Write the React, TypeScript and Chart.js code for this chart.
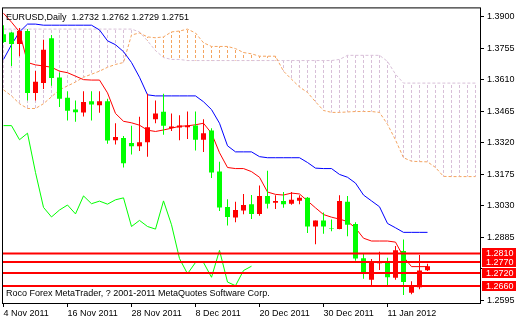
import React, { useEffect, useRef } from 'react';
import { Chart, registerables } from 'chart.js';

Chart.register(...registerables);

const symbolTitle = 'EURUSD,Daily';
const copyright = 'Roco Forex MetaTrader, ? 2001-2011 MetaQuotes Software Corp.';

const opens = [1.3820,1.3828,1.3775,1.3835,1.3549,1.3595,1.3802,1.3621,1.3527,1.3473,
1.3460,1.3511,1.3493,1.3511,1.3331,1.3342,1.3319,1.3304,1.3322,1.3428,
1.3463,1.3388,1.3390,1.3392,1.3399,1.3334,1.3377,1.3187,1.3024,1.2975,
1.3008,1.3037,1.2992,1.3075,1.3043,1.3051,1.3039,1.3053,1.3066,1.2934,
1.2962,1.2925,1.2922,1.3048,1.2945,1.2788,1.2689,1.2764,1.2768,1.2698,
1.2821,1.2629,1.2654,1.2732];
const highs = [1.3862,1.3831,1.3849,1.3844,1.3651,1.3795,1.3817,1.3644,1.3558,1.3515,
1.3558,1.3558,1.3558,1.3523,1.3410,1.3351,1.3398,1.3440,1.3546,1.3515,
1.3546,1.3455,1.3447,1.3464,1.3464,1.3428,1.3387,1.3232,1.3060,1.3048,
1.3084,1.3079,1.3123,1.3191,1.3078,1.3093,1.3093,1.3078,1.3070,1.2962,
1.2999,1.2966,1.3078,1.3075,1.2953,1.2808,1.2784,1.2818,1.2790,1.2844,
1.2874,1.2681,1.2803,1.2762];
const lows = [1.3781,1.3674,1.3719,1.3515,1.3515,1.3568,1.3583,1.3485,1.3423,1.3417,
1.3441,1.3423,1.3458,1.3316,1.3312,1.3206,1.3266,1.3282,1.3256,1.3410,
1.3357,1.3374,1.3331,1.3337,1.3284,1.3277,1.3158,1.3005,1.2939,1.2954,
1.2990,1.2969,1.2984,1.3017,1.3015,1.3020,1.3034,1.3037,1.2904,1.2852,
1.2900,1.2912,1.2921,1.2889,1.2776,1.2693,1.2658,1.2734,1.2655,1.2689,
1.2618,1.2622,1.2645,1.2729];
const closes = [1.3784,1.3775,1.3835,1.3549,1.3601,1.3749,1.3618,1.3523,1.3467,1.3461,
1.3508,1.3496,1.3511,1.3330,1.3346,1.3225,1.3304,1.3322,1.3392,1.3455,
1.3398,1.3395,1.3399,1.3399,1.3334,1.3364,1.3183,1.3022,1.2978,1.3010,
1.3033,1.2992,1.3075,1.3039,1.3051,1.3037,1.3057,1.3066,1.2934,1.2962,
1.2934,1.2922,1.3052,1.2942,1.2786,1.2716,1.2768,1.2768,1.2700,1.2824,
1.2678,1.2661,1.2731,1.2751];

const tenkan = [1.3917,1.3876,1.3831,1.3690,1.3679,1.3674,1.3668,1.3650,1.3643,1.3627,
1.3611,1.3609,1.3609,1.3550,1.3455,1.3419,1.3412,1.3401,1.3378,1.3372,
1.3379,1.3387,1.3396,1.3398,1.3403,1.3410,1.3364,1.3274,1.3206,1.3201,
1.3201,1.3187,1.3161,1.3093,1.3082,1.3079,1.3088,1.3084,1.3052,1.3020,
1.2989,1.2977,1.2968,1.2957,1.2927,1.2880,1.2867,1.2867,1.2867,1.2862,
1.2794,1.2749,1.2749,1.2749];
const kijun = [1.3704,1.3772,1.3831,1.3867,1.3867,1.3862,1.3862,1.3862,1.3862,1.3862,
1.3862,1.3862,1.3840,1.3790,1.3772,1.3740,1.3690,1.3622,1.3541,1.3536,
1.3536,1.3536,1.3536,1.3536,1.3536,1.3509,1.3473,1.3410,1.3306,1.3278,
1.3278,1.3278,1.3256,1.3251,1.3251,1.3251,1.3251,1.3251,1.3229,1.3203,
1.3201,1.3201,1.3174,1.3161,1.3134,1.3079,1.3052,1.3025,1.2948,1.2928,
1.2907,1.2907,1.2907,1.2907];
const chikou = [1.3399,1.3399,1.3334,1.3364,1.3183,1.3022,1.2978,1.3010,1.3033,1.2992,
1.3075,1.3039,1.3051,1.3037,1.3057,1.3066,1.2934,1.2962,1.2934,1.2922,
1.3052,1.2942,1.2786,1.2716,1.2768,1.2768,1.2700,1.2824,1.2678,1.2661,
1.2731,1.2751];
const senkouA = [1.3564,1.3536,1.3500,1.3478,1.3478,1.3500,1.3532,1.3564,1.3582,1.3600,
1.3622,1.3636,1.3650,1.3668,1.3681,1.3690,1.3817,1.3826,1.3808,1.3804,
1.3808,1.3831,1.3835,1.3844,1.3826,1.3781,1.3764,1.3764,1.3764,1.3754,
1.3736,1.3730,1.3719,1.3719,1.3719,1.3650,1.3613,1.3577,1.3552,1.3509,
1.3469,1.3460,1.3460,1.3462,1.3464,1.3464,1.3464,1.3460,1.3405,1.3333,
1.3251,1.3235,1.3233,1.3232,1.3206,1.3165,1.3164,1.3164,1.3164,1.3164];
const senkouB = [1.3844,1.3844,1.3844,1.3844,1.3844,1.3844,1.3844,1.3844,1.3844,1.3844,
1.3844,1.3844,1.3844,1.3844,1.3844,1.3844,1.3844,1.3831,1.3790,1.3745,
1.3713,1.3704,1.3704,1.3699,1.3699,1.3699,1.3699,1.3699,1.3699,1.3699,
1.3699,1.3699,1.3699,1.3699,1.3699,1.3699,1.3699,1.3699,1.3699,1.3699,
1.3699,1.3699,1.3704,1.3723,1.3723,1.3723,1.3723,1.3723,1.3695,1.3636,
1.3595,1.3595,1.3595,1.3595,1.3595,1.3595,1.3595,1.3595,1.3595,1.3595];

const levels = [1.2810, 1.2770, 1.2720, 1.2660];

const xTickIdx = [0, 8, 16, 24, 32, 40, 48];
const xTickLabels = ['4 Nov 2011', '16 Nov 2011', '28 Nov 2011', '8 Dec 2011', '20 Dec 2011', '30 Dec 2011', '11 Jan 2012'];
const yTicks = [1.3900, 1.3755, 1.3610, 1.3465, 1.3320, 1.3175, 1.3030, 1.2885, 1.2740, 1.2595];
const yTicksUnlabelled = [1.2740];

const X_MIN = -0.0625;
const X_MAX = 59.5625;
const Y_MIN = 1.25813;
const Y_MAX = 1.39394;

const RED = '#FF0000';
const LIME = '#00FF00';
const BLUE = '#0000FF';
const SANDY = '#F4A460';
const THISTLE = '#D8BFD8';
const FONT = 'Liberation Sans';

export default function App() {
  const ref = useRef<HTMLCanvasElement>(null);

  useEffect(() => {
    const canvas = ref.current as HTMLCanvasElement;
    const ctx = canvas.getContext('2d') as CanvasRenderingContext2D;
    const makePattern = (color: string) => {
      const c = document.createElement('canvas');
      c.width = 1;
      c.height = 5;
      const g = c.getContext('2d') as CanvasRenderingContext2D;
      g.fillStyle = color;
      g.fillRect(0, 0, 1, 3);
      return ctx.createPattern(c, 'repeat') as CanvasPattern;
    };
    const sandyPat = makePattern(SANDY);
    const thistlePat = makePattern(THISTLE);

    const pts = (arr: number[]) => arr.map((v, i) => ({ x: i, y: v }));
    const candleColor = (i: number) => (closes[i] >= opens[i] ? RED : LIME);

    const overlay = {
      id: 'overlay',
      beforeDraw(chart: any) {
        const c = chart.ctx;
        c.save();
        c.fillStyle = '#FFFFFF';
        c.fillRect(0, 0, chart.width, chart.height);
        c.restore();
      },
      afterDraw(chart: any) {
        const c = chart.ctx;
        const a = chart.chartArea;
        const ys = chart.scales.y;
        c.save();
        c.strokeStyle = '#000000';
        c.lineWidth = 1;
        c.strokeRect(a.left - 0.5, a.top - 0.5, a.right - a.left + 1, a.bottom - a.top + 1);
        c.font = `9px "${FONT}"`;
        c.textBaseline = 'middle';
        c.textAlign = 'left';
        c.fillStyle = '#000000';
        const last = opens.length - 1;
        const title = `${symbolTitle}  ${opens[last].toFixed(4)} ${highs[last].toFixed(4)} ${lows[last].toFixed(4)} ${closes[last].toFixed(4)}`;
        c.fillText(title, a.left + 3, a.top + 9);
        c.fillText(copyright, a.left + 3, a.bottom - 9);
        levels.forEach((lv) => {
          const y = Math.round(ys.getPixelForValue(lv));
          c.fillStyle = RED;
          c.fillRect(a.right + 2, y - 5, 34, 10);
          c.fillStyle = '#FFFFFF';
          c.fillText(lv.toFixed(4), a.right + 6, y + 0.5);
        });
        c.restore();
      },
    };

    const lineDs = (label: string, data: number[], color: string, order: number, dash: number[] = []) => ({
      type: 'line' as const,
      label,
      data: pts(data),
      borderColor: color,
      borderWidth: 1,
      borderDash: dash,
      pointRadius: 0,
      tension: 0,
      fill: false,
      order,
      clip: 0,
    });

    const datasets: any[] = [];
    levels.forEach((lv, k) => {
      datasets.push({
        type: 'line',
        label: 'level' + k,
        data: [{ x: X_MIN, y: lv }, { x: X_MAX, y: lv }],
        borderColor: RED,
        borderWidth: 2,
        pointRadius: 0,
        fill: false,
        order: 0,
        clip: 0,
      });
    });
    datasets.push({
      type: 'bar',
      label: 'body',
      data: opens.map((o, i) => ({ x: i, y: [o, closes[i]] })),
      backgroundColor: opens.map((_, i) => candleColor(i)),
      borderWidth: 0,
      barThickness: 5,
      grouped: false,
      inflateAmount: 0,
      order: 1,
      clip: 0,
    });
    datasets.push({
      type: 'bar',
      label: 'wick',
      data: lows.map((l, i) => ({ x: i, y: [l, highs[i]] })),
      backgroundColor: lows.map((_, i) => candleColor(i)),
      borderWidth: 0,
      barThickness: 1,
      grouped: false,
      inflateAmount: 0,
      order: 2,
      clip: 0,
    });
    datasets.push(lineDs('Tenkan-sen', tenkan, RED, 3));
    datasets.push(lineDs('Kijun-sen', kijun, BLUE, 3));
    datasets.push(lineDs('Chikou Span', chikou, LIME, 3));
    datasets.push(lineDs('Senkou Span A', senkouA, SANDY, 4, [3, 2]));
    datasets.push(lineDs('Senkou Span B', senkouB, THISTLE, 4, [3, 2]));
    datasets.push({
      type: 'bar',
      label: 'kumo',
      data: senkouA.map((a, i) => ({ x: i, y: [a, senkouB[i]] })),
      backgroundColor: senkouA.map((a, i) => (a > senkouB[i] ? sandyPat : thistlePat)),
      borderWidth: 0,
      barThickness: 1,
      grouped: false,
      inflateAmount: 0,
      order: 5,
      clip: 0,
    });

    const tickFont = { family: FONT, size: 9 };

    const chart = new Chart(canvas, {
      type: 'bar',
      data: { datasets },
      plugins: [overlay],
      options: {
        animation: false,
        responsive: false,
        devicePixelRatio: 1,
        layout: { padding: { left: 3, top: 3, right: 0, bottom: 0 } },
        plugins: { legend: { display: false }, tooltip: { enabled: false } },
        events: [],
        scales: {
          x: {
            type: 'linear',
            position: 'bottom',
            min: X_MIN,
            max: X_MAX,
            offset: false,
            afterBuildTicks: (scale: any) => {
              scale.ticks = xTickIdx.map((v) => ({ value: v }));
            },
            afterFit: (scale: any) => {
              scale.height = 17;
            },
            grid: {
              offset: false,
              drawOnChartArea: false,
              drawTicks: true,
              tickLength: 4,
              color: '#000000',
            },
            border: { display: false },
            ticks: {
              autoSkip: false,
              maxRotation: 0,
              minRotation: 0,
              align: 'start',
              padding: 1,
              color: '#000000',
              font: tickFont,
              callback: (v: any) => {
                const k = xTickIdx.indexOf(Number(v));
                return k >= 0 ? xTickLabels[k] : '';
              },
            },
          },
          y: {
            type: 'linear',
            position: 'right',
            min: Y_MIN,
            max: Y_MAX,
            afterBuildTicks: (scale: any) => {
              scale.ticks = yTicks.map((v) => ({ value: v }));
            },
            afterFit: (scale: any) => {
              scale.width = 40;
            },
            grid: {
              drawOnChartArea: false,
              drawTicks: true,
              tickLength: 4,
              color: '#000000',
            },
            border: { display: false },
            ticks: {
              autoSkip: false,
              padding: 3,
              color: '#000000',
              font: tickFont,
              callback: (v: any) => {
                const n = Number(v);
                if (yTicksUnlabelled.some((u) => Math.abs(u - n) < 1e-6)) return '';
                return n.toFixed(4);
              },
            },
          },
        },
      } as any,
    });
    return () => chart.destroy();
  }, []);

  return (
    <div style={{ position: 'absolute', left: 0, top: 0, width: 520, height: 320, background: '#FFFFFF' }}>
      <canvas ref={ref} width={520} height={320} style={{ display: 'block', width: 520, height: 320 }} />
    </div>
  );
}
